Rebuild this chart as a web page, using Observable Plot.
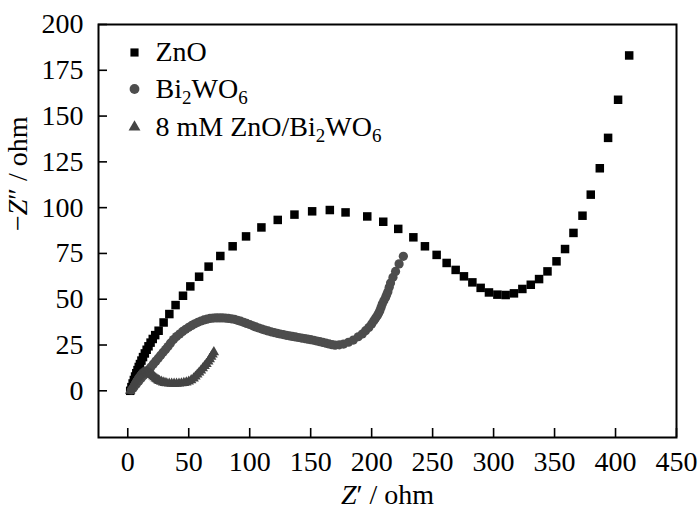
<!DOCTYPE html>
<html>
<head>
<meta charset="utf-8">
<script src="https://cdn.jsdelivr.net/npm/d3@7"></script>
<script src="https://cdn.jsdelivr.net/npm/@observablehq/plot@0.6"></script>
<style>
  html, body { margin: 0; padding: 0; background: #fff; }
  #chart svg { display: block; }
  #chart svg, #chart svg text, #chart svg tspan { font-family: "Liberation Serif", "DejaVu Serif", serif !important; }
</style>
</head>
<body>
<div id="chart"></div>
<script>
// ---- data (Z', -Z'') in ohm ----
const seriesNames = ["ZnO", "Bi₂WO₆", "8 mM ZnO/Bi₂WO₆"];
const seriesColors = ["#000000", "#4d4d4d", "#444444"];
const seriesSymbols = ["square", "circle", "triangle"];

const znoPoints = [
  [2,0],[3,2],[4,4],[5,5.9],[6,7.8],[7,9.6],[8,11.3],[9,13],[10,14.6],[11.2,16.5],
  [12.5,18.4],[14,20.4],[15.5,22.4],[17,24.3],[18.7,26.3],[20.5,28.3],[22.5,30.4],
  [25.3,32.8],[29.4,37.3],[34.1,41.9],[39.2,46.8],[45.3,51.9],[51.3,57],[58.5,62.3],
  [66.3,67.8],[75.9,73.6],[86,78.9],[97,84.3],[109.6,89.2],[123,93.3],[136.7,96.2],
  [151.2,98],[165.7,98.7],[178.6,97.4],[196.4,95.2],[209.5,92.3],[221.8,88.4],
  [234.2,83.8],[243.7,78.9],[253.3,74.2],[261.5,69.8],[268.9,66],[275.7,62.5],
  [282.6,59.2],[289.4,56.2],[296.2,53.7],[303.1,52.5],[309.9,52.3],[316.7,53.2],
  [323.6,55.6],[330.5,57.9],[337.3,61],[344.2,65.2],[351.6,70.7],[358.6,77.4],
  [365.5,86.2],[372.9,95.6],[379.7,107.1],[387.1,121.5],[393.9,138.1],[402.1,158.9],
  [411.2,183.1]
];

const biPoints = [
  [3,0.5],[5,2],[7,3.6],[9,5.2],[11,6.8],[13,8.3],[15,9.9],[17,11.4],[19,13],[21,14.6],
  [23,16.2],[25,17.8],[27,19.4],[29,21],[31,22.6],[33,24.2],[35,26],[37.5,28],[40,29.6],
  [42.5,31],[45,32.4],[47.5,33.6],[50,34.7],[52.5,35.7],[55,36.6],[57.5,37.4],[60,38.1],
  [62.5,38.7],[65,39.1],[67.5,39.5],[70,39.7],[72.5,39.8],[75,39.8],[77.5,39.8],[80,39.7],
  [82.5,39.5],[85,39.3],[87.5,39],[90,38.5],[92.5,38],[95,37.4],[97.5,36.8],[100,36.2],
  [102.5,35.5],[105,34.9],[107.5,34.3],[110,33.7],[112.5,33.2],[115,32.7],[117.5,32.2],
  [120,31.8],[122.5,31.4],[125,31],[127.5,30.7],[130,30.3],[132.5,30],[135,29.7],
  [137.5,29.4],[140,29.1],[142.5,28.8],[145,28.5],[147.5,28.2],[150,27.9],[152.5,27.6],
  [155,27.2],[157.5,26.8],[160,26.4],[162.5,26],[165,25.6],[167.5,25.2],[170,24.9],
  [173.5,25.1],[177,25.5],[181,26.5],[185,27.7],[189,29.5],[192.3,31],[195,32.8],
  [197.7,34.6],[200,36.5],[201.8,38.3],[203.3,39.7],[204.6,41],[205.7,42.3],[206.7,43.7],
  [207.7,45.5],[208.7,47.4],[210,49.2],[211.4,51],[212.3,52.5],[213.3,54.1],[214.4,56.5],
  [215.5,58.9],[217.5,62],[219.6,65.2],[222.5,69.3],[226,73.4]
];

const compPoints = [
  [2,0],[3,1.2],[4,2.5],[5,3.8],[6,5],[7,6],[8,7],[9,7.8],[10,8.6],[11,9.2],[12,9.7],
  [13,10],[14,10.2],[15,10.3],[16,10.2],[17,10],[18,9.6],[19,9.1],[20,8.6],[21,8],
  [22,7.4],[23,6.8],[24,6.3],[25,5.8],[26,5.4],[27.5,5],[29,4.6],[30.5,4.3],[32,4.1],
  [34,4],[36,3.9],[38,3.9],[40,3.9],[42,4],[44,4.1],[46,4.3],[48,4.6],[50,5.1],[52,5.8],
  [54,6.8],[55.5,7.8],[57,8.9],[58.5,10],[60,11.1],[61.5,12.3],[63,13.5],[64.5,14.7],
  [66,16],[67.2,17.3],[68.4,18.6],[69.5,19.8],[70.6,21.1]
];

const xTicks = [0, 50, 100, 150, 200, 250, 300, 350, 400, 450];
const yTicks = [0, 25, 50, 75, 100, 125, 150, 175, 200];
const xTitle = "Z′ / ohm";
const yTitle = "−Z″ / ohm";

// ---- layout ----
const W = 700, H = 510;
const mL = 98, mR = 24, mT = 24, mB = 73;
const plotW = W - mL - mR, plotH = H - mT - mB;
const tickLen = 9;
const font = "'Liberation Serif', 'DejaVu Serif', serif";

const toRows = pts => pts.map(([x, y]) => ({x, y}));
const series = [znoPoints, biPoints, compPoints].map(toRows);
const sizes = [4.8, 4.6, 3.9];
const legendR = [4.6, 4.9, 4.4];
const legendDy = [28, 64.5, 102.5];

const marks = [];
series.forEach((rows, i) => {
  marks.push(Plot.dot(rows, {
    x: "x", y: "y", symbol: seriesSymbols[i], fill: seriesColors[i], stroke: "none", r: sizes[i]
  }));
});
// inward ticks
marks.push(Plot.ruleX(xTicks, {x: d => d, insetTop: plotH - tickLen, stroke: "#000", strokeWidth: 1.6}));
marks.push(Plot.ruleY(yTicks, {y: d => d, insetRight: plotW - tickLen, stroke: "#000", strokeWidth: 1.6}));
marks.push(Plot.frame({stroke: "#000", strokeWidth: 2}));
// legend
seriesNames.forEach((name, i) => {
  marks.push(Plot.dot([name], {
    frameAnchor: "top-left", dx: 36, dy: legendDy[i],
    symbol: seriesSymbols[i], fill: seriesColors[i], r: legendR[i]
  }));
  marks.push(Plot.text([name], {
    frameAnchor: "top-left", dx: 57, dy: legendDy[i], text: d => d,
    textAnchor: "start", lineAnchor: "middle", fontSize: 28, fill: "#000"
  }));
});
// axis titles
marks.push(Plot.text([xTitle], {
  frameAnchor: "bottom", dy: 58, text: d => d, lineAnchor: "middle", fontSize: 28, fill: "#000"
}));
marks.push(Plot.text([yTitle], {
  frameAnchor: "left", dx: -80, text: d => d, rotate: -90, lineAnchor: "middle", fontSize: 28, fill: "#000"
}));

const chart = Plot.plot({
  width: W, height: H,
  marginLeft: mL, marginRight: mR, marginTop: mT, marginBottom: mB,
  style: {fontFamily: font, fontSize: "28px", background: "#fff", color: "#000", overflow: "visible"},
  x: {domain: [-24, 450], ticks: xTicks, tickSize: 0, tickPadding: 14, label: null},
  y: {domain: [-25.5, 200], ticks: yTicks, tickSize: 0, tickPadding: 15, label: null},
  marks
});
document.getElementById("chart").appendChild(chart);

// ---- rich text: subscripts and italic Z ----
const subMap = {"₀":"0","₁":"1","₂":"2","₃":"3","₄":"4","₅":"5","₆":"6","₇":"7","₈":"8","₉":"9"};
d3.select(chart).selectAll("text").each(function () {
  const s = this.textContent;
  const hasSub = /[₀-₉]/.test(s);
  const isTitle = s === xTitle || s === yTitle;
  if (!hasSub && !isTitle) return;
  const sel = d3.select(this);
  sel.text(null);
  const runs = s.match(/([₀-₉]+|Z|[^₀-₉Z]+)/g);
  let shifted = false;
  for (const r of runs) {
    const t = sel.append("tspan");
    if (/^[₀-₉]+$/.test(r)) {
      t.text(r.split("").map(c => subMap[c]).join(""))
       .attr("font-size", "19px").attr("dy", shifted ? null : "6px");
      shifted = true;
    } else {
      t.text(r);
      if (shifted) { t.attr("dy", "-6px"); shifted = false; }
      if (r === "Z" && isTitle) t.attr("font-style", "italic");
    }
  }
});
</script>
</body>
</html>
